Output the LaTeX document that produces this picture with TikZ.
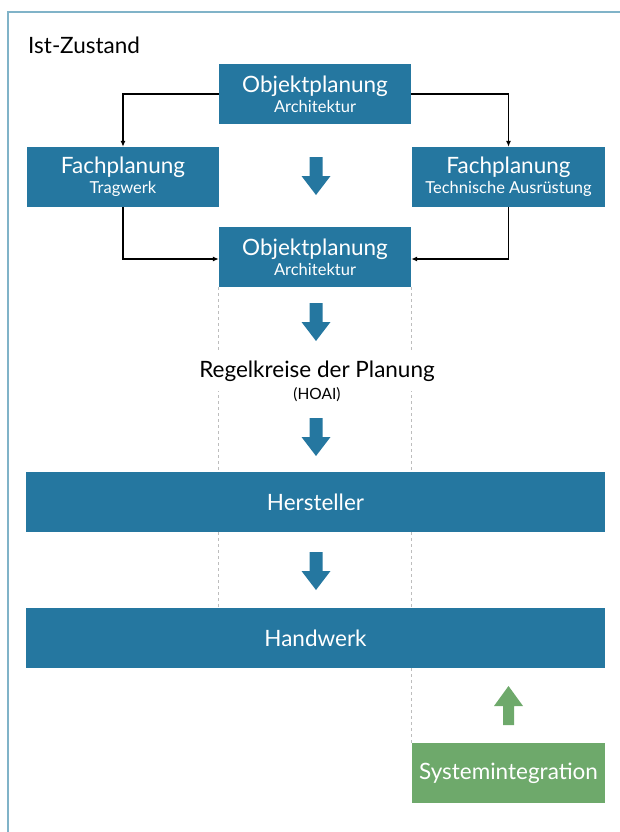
\documentclass[tikz,border=0pt]{standalone}
\usepackage{fontspec}
\setmainfont{Lato}
\usetikzlibrary{arrows.meta,backgrounds}
\definecolor{boxblue}{HTML}{2577A0}
\definecolor{boxgreen}{HTML}{6EA96B}
\definecolor{framec}{HTML}{80B3C8}
\definecolor{dashc}{HTML}{BDBDBD}
\tikzset{
  bigtxt/.style={font=\fontsize{22.5}{20}\selectfont},
  bluebox/.style={fill=boxblue, text=white, inner sep=0pt, minimum height=60pt, align=center, bigtxt},
  greenbox/.style={fill=boxgreen, text=white, inner sep=0pt, minimum height=60pt, align=center, bigtxt},
  conn/.style={draw=black, line width=1.2pt, -{Latex[length=6pt,width=5pt]}},
  guide/.style={draw=dashc, line width=1pt, dash pattern=on 3pt off 3pt},
  downarrow/.pic={\fill[boxblue] (-6.5,0) -- (6.5,0) -- (6.5,19) -- (14.5,19) -- (0,38) -- (-14.5,19) -- (-6.5,19) -- cycle;},
  uparrow/.pic={\fill[boxgreen] (-5.5,0) -- (5.5,0) -- (5.5,-19) -- (14.5,-19) -- (0,-39) -- (-14.5,-19) -- (-5.5,-19) -- cycle;}
}
\newcommand{\twoline}[2]{#1\\{\fontsize{16.5}{20}\selectfont #2}}
\begin{document}
\begin{tikzpicture}[x=1pt,y=-1pt]
\useasboundingbox (0,0) rectangle (620,832);
\draw[framec, line width=2pt] (620,12) -- (8,12) -- (8,832);
\node[anchor=west, bigtxt, inner sep=0pt] (title) at (28,45) {Ist-Zustand};

\node[bluebox, minimum width=192pt] (obj1) at (315,94) {\twoline{Objektplanung}{Architektur}};
\node[bluebox, minimum width=192pt] (trag) at (123,177) {\twoline{Fachplanung}{Tragwerk}};
\node[bluebox, minimum width=193pt] (tga) at (508.5,177) {\twoline{Fachplanung}{Technische Ausrüstung}};
\node[bluebox, minimum width=192pt] (obj2) at (315,257) {\twoline{Objektplanung}{Architektur}};
\node[fill=white, inner sep=0pt, minimum height=40pt, bigtxt] (regel) at (317,371) {Regelkreise der Planung};
\node[inner sep=0pt, font=\fontsize{15.5}{18}\selectfont] (hoai) at (317,395) {(HOAI)};
\node[bluebox, minimum width=579pt] (hers) at (315.5,502) {Hersteller};
\node[bluebox, minimum width=579pt] (hand) at (315.5,638) {Handwerk};
\node[greenbox, minimum width=193pt] (sys) at (508.5,773) {Systemintegration};

\begin{scope}[on background layer]
\draw[guide] (obj2.south west) -- (obj2.south west |- hers.north);
\draw[guide] (obj2.south east) -- (obj2.south east |- hers.north);
\draw[guide] (obj2.south west |- hers.south) -- (obj2.south west |- hand.north);
\draw[guide] (obj2.south east |- hers.south) -- (obj2.south east |- hand.north);
\draw[guide] (obj2.south east |- hand.south) -- (obj2.south east |- sys.north);
\end{scope}

\draw[conn] (obj1.west) -| (trag.north);
\draw[conn] (obj1.east) -| (tga.north);
\draw[conn] (trag.south) |- ([yshift=-2pt]obj2.west);
\draw[conn] (tga.south) |- ([yshift=-2pt]obj2.east);

\pic at (316,157) {downarrow};
\pic at (316,303) {downarrow};
\pic at (316,418) {downarrow};
\pic at (316,552) {downarrow};
\pic at (508.5,725) {uparrow};
\end{tikzpicture}
\end{document}
